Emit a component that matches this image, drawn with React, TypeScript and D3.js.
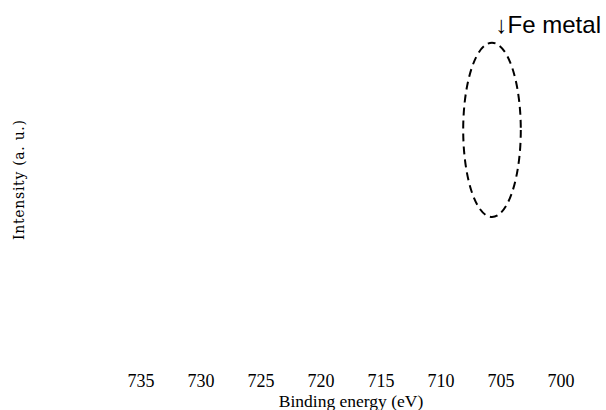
import React, { useEffect, useRef } from 'react';
import * as d3 from 'd3';

const width = 606;
const height = 410;

// binding energy ticks (eV), axis runs high -> low
const energyTicks = [735, 730, 725, 720, 715, 710, 705, 700];
const energyDomain = [735, 700];
const intensityDomain = [0, 1];

// dashed region marking the Fe metal peak
const peakCenter = [705.75, 0.686];
const peakHalfWidth = [2.4, 0.249];
const arrowAt = [705.2, 0.963];
const peakLabel = '↓Fe metal';

function App() {
  const svgRef = useRef<SVGSVGElement>(null);

  useEffect(() => {
    const svg = d3.select(svgRef.current);
    svg.selectAll('*').remove();

    const x = d3.scaleLinear().domain(energyDomain).range([141, 561]);
    const y = d3.scaleLinear().domain(intensityDomain).range([370, 20]);

    // x tick labels
    svg.append('g')
      .selectAll('text')
      .data(energyTicks)
      .enter()
      .append('text')
      .attr('x', d => x(d))
      .attr('y', 387)
      .attr('text-anchor', 'middle')
      .style('font-family', '"Liberation Serif", "Times New Roman", serif')
      .style('font-size', '18px')
      .style('fill', '#000')
      .text(d => d);

    svg.append('text')
      .attr('x', 351)
      .attr('y', 407)
      .attr('text-anchor', 'middle')
      .style('font-family', '"Liberation Serif", "Times New Roman", serif')
      .style('font-size', '17.5px')
      .text('Binding energy (eV)');

    svg.append('text')
      .attr('transform', 'translate(24,180) rotate(-90)')
      .attr('text-anchor', 'middle')
      .attr('textLength', 120)
      .attr('lengthAdjust', 'spacing')
      .style('font-family', '"DejaVu Serif", "Liberation Serif", serif')
      .style('font-size', '14px')
      .text('Intensity (a. u.)');

    // dashed ellipse
    const cx = x(peakCenter[0]);
    const cy = y(peakCenter[1]);
    const rx = Math.abs(x(peakCenter[0] + peakHalfWidth[0]) - cx);
    const ry = Math.abs(y(peakCenter[1] + peakHalfWidth[1]) - cy);
    svg.append('ellipse')
      .attr('cx', cx)
      .attr('cy', cy)
      .attr('rx', rx)
      .attr('ry', ry)
      .attr('fill', 'none')
      .attr('stroke', '#000')
      .attr('stroke-width', 2)
      .attr('stroke-dasharray', '8 5');

    svg.append('text')
      .attr('x', x(arrowAt[0]) - 3)
      .attr('y', y(arrowAt[1]))
      .style('font-family', '"Liberation Sans", Arial, sans-serif')
      .style('font-size', '24px')
      .style('fill', '#000')
      .text(peakLabel);
  }, []);

  return (
    <svg
      ref={svgRef}
      width={width}
      height={height}
      style={{ position: 'absolute', left: 0, top: 0, background: '#fff' }}
    />
  );
}

export default App;
